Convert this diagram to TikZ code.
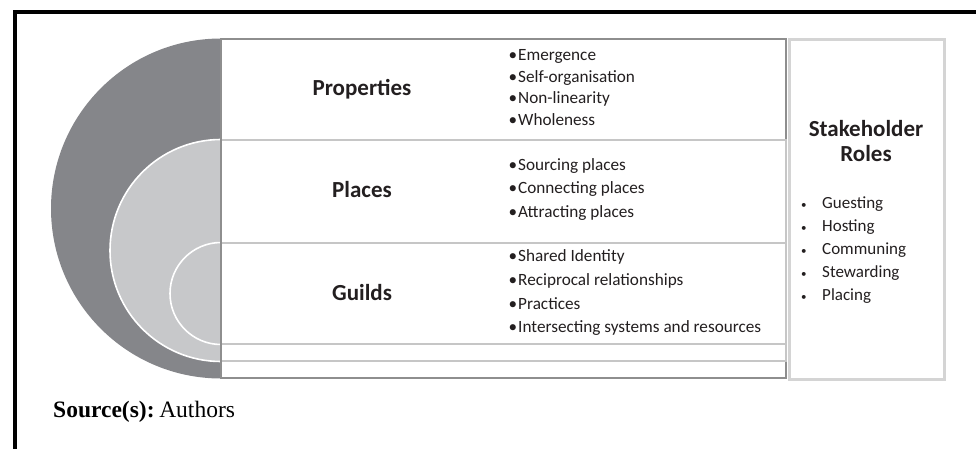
\documentclass[tikz,border=0pt]{standalone}
\usepackage{fontspec}
\setmainfont{Carlito}
\newfontfamily\srcfont{Liberation Serif}
\definecolor{darkarc}{HTML}{85868A}
\definecolor{lightarc}{HTML}{C7C8CA}
\definecolor{outergray}{HTML}{8E8E8E}
\definecolor{rowgray}{HTML}{C6C6C6}
\definecolor{rolegray}{HTML}{D4D4D4}
\definecolor{inktext}{HTML}{231F20}
\newcommand{\bul}{\makebox[9.5pt][l]{•}}
\begin{document}
\begin{tikzpicture}[x=1pt,y=-1pt,
  frameline/.style={line width=3.4pt,black},
  rowbox/.style={fill=white,draw=rowgray,line width=1.6pt},
  label/.style={anchor=base,font=\fontsize{23}{27}\selectfont\bfseries,text=inktext,inner sep=0pt},
  item/.style={anchor=base west,font=\fontsize{17.2}{20}\selectfont,text=inktext,inner sep=0pt},
  roleitem/.style={anchor=base west,font=\fontsize{17}{20}\selectfont,text=inktext,inner sep=0pt}]
\useasboundingbox (0,0) rectangle (976,449);
% frame
\draw[frameline] (15,12) -- (976,12);
\draw[frameline] (15,10.3) -- (15,449);
% semicircles (full circles, right halves covered by the boxes)
\fill[darkarc] (221,208.5) circle[radius=170pt];
\filldraw[fill=lightarc,draw=white,line width=1.6pt] (221,250.5) circle[radius=111pt];
\filldraw[fill=lightarc,draw=white,line width=1.6pt] (221,293.5) circle[radius=51pt];
% boxes
\filldraw[fill=white,draw=outergray,line width=1.6pt] (221,39) rectangle (786,378);
\draw[rowbox] (221,140) rectangle (786,361);
\draw[rowbox] (221,243) rectangle (786,344);
\draw[draw=outergray,line width=1.6pt] (221,39) -- (221,378);
% stakeholder box
\filldraw[fill=white,draw=rolegray,line width=3pt] (789,39.5) rectangle (944,379);
% labels
\node[label] (lprop) at (362,96) {Properties};
\node[label] (lplace) at (362,197.5) {Places};
\node[label] (lguild) at (362,300.5) {Guilds};
\node[label] (lstake) at (866,137) {Stakeholder};
\node[label] (lroles) at (866,161.5) {Roles};
% lists
\node[item] (p1) at (508.5,61) {\bul Emergence};
\node[item] (p2) at (508.5,82.5) {\bul Self-organisation};
\node[item] (p3) at (508.5,104) {\bul Non-linearity};
\node[item] (p4) at (508.5,125.5) {\bul Wholeness};
\node[item] (q1) at (508.5,170.5) {\bul Sourcing places};
\node[item] (q2) at (508.5,193.5) {\bul Connecting places};
\node[item] (q3) at (508.5,217) {\bul Attracting places};
\node[item] (g1) at (508.5,261.5) {\bul Shared Identity};
\node[item] (g2) at (508.5,285) {\bul Reciprocal relationships};
\node[item] (g3) at (508.5,309) {\bul Practices};
\node[item] (g4) at (508.5,332.5) {\bul Intersecting systems and resources};
\foreach \t [count=\i] in {Guesting,Hosting,Communing,Stewarding,Placing}{
  \node[roleitem] (r\i) at (801,185+23*\i) {\makebox[21pt][l]{\fontsize{11}{12}\selectfont•}\t};
}
% source
\node[anchor=base west,inner sep=0pt,font=\srcfont\fontsize{23.5}{28}\selectfont] (src) at (53,417) {\textbf{Source(s):}\hspace{0.2em}Authors};
\end{tikzpicture}
\end{document}
